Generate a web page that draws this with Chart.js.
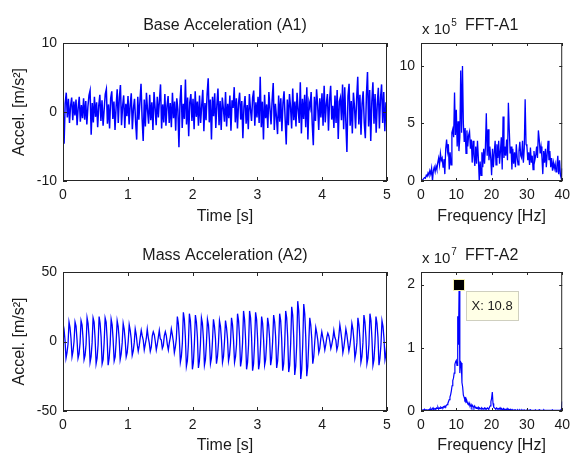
<!DOCTYPE html>
<html>
<head>
<meta charset="utf-8">
<title>Base and Mass Acceleration</title>
<script src="https://cdn.jsdelivr.net/npm/chart.js@4.4.1/dist/chart.umd.min.js"></script>
<style>
  html, body { margin: 0; padding: 0; background: #fff; }
  #figure { position: relative; width: 576px; height: 456px; background: #fff; overflow: hidden; }
  #figure canvas { position: absolute; }
</style>
</head>
<body>
<div id="figure">
  <canvas id="a1Canvas" width="400" height="230" style="left:0;top:0"></canvas>
  <canvas id="fftA1Canvas" width="176" height="230" style="left:400px;top:0"></canvas>
  <canvas id="a2Canvas" width="400" height="228" style="left:0;top:228px"></canvas>
  <canvas id="fftA2Canvas" width="176" height="228" style="left:400px;top:228px"></canvas>
</div>
<script>
/* Record length and spectrum range */
const duration = 5;      // s
const maxFreq = 40;      // Hz

/* Base acceleration A1 [m/s^2], evenly sampled over the record */
const baseAccel = [
  0.5, -4.6, 1.2, 2.8, -0.8, 1.9, -1.6, 0.9, 2.1, -1.2, 1.5, -0.5, 1.8, -1.9, 0.6, 2.2, -1.4, 1.0, -0.9, 2.0,
  -1.1, 1.6, -1.8, 0.8, 2.4, 3.1, -3.3, 1.3, -1.5, 2.2, -0.7, 1.4, -2.2, 0.9, 2.5, -1.3, 1.7, -2.0, 0.4, 2.6,
  3.3, -1.7, 1.1, -2.4, 2.0, 3.0, -1.0, 1.5, -2.6, 0.7, 3.3, -1.6, 2.1, 3.9, -1.9, 0.8, 2.4, -2.3, 1.2, -0.6,
  2.3, -1.8, 1.0, 2.7, -2.5, 0.5, 1.9, -1.4, -4.0, 2.2, -1.1, 1.6, 4.1, -0.9, -4.2, 1.8, -2.1, 2.8, 0.3, -1.7,
  2.5, -1.2, 1.4, -2.6, 2.9, 0.6, -1.9, 2.2, -0.8, 1.7, 4.0, -2.4, 1.1, -1.5, 2.6, -2.0, 0.9, 2.3, -1.6, 1.3,
  -2.2, 2.8, -0.9, 1.5, -2.7, 2.0, 0.4, -5.1, 1.6, 3.9, -2.3, 1.2, -1.0, 4.7, -1.8, 2.1, -3.5, 1.4, 2.6, -1.3,
  1.9, -2.5, 3.0, -0.7, 1.5, -2.0, 2.4, -1.6, 0.9, 3.2, -2.8, 1.3, -1.2, 2.6, 4.9, -1.5, 1.8, -4.0, 2.2, -0.6,
  2.7, -2.3, 1.0, 3.4, -1.9, 1.6, -2.6, 2.1, 0.5, -1.4, 2.9, -2.1, 1.2, -0.9, 2.4, -2.7, 1.7, 0.6, 3.6, -1.5,
  2.0, -2.4, 1.3, 2.8, -1.1, 1.6, -3.8, 0.8, 2.3, -1.7, 1.0, -2.5, 2.6, 0.4, -1.3, 2.1, 3.1, -2.0, 1.4, -0.8,
  2.2, -1.6, 5.1, -2.2, 1.5, -4.0, 2.5, -0.9, 1.1, -2.3, 2.9, 0.5, -1.8, 1.7, 4.2, -2.6, 1.2, -0.7, -3.2, 2.4,
  -1.4, 2.0, -2.8, 1.3, 3.0, -1.0, -4.7, 1.8, -1.9, 2.6, 0.7, -2.4, 3.4, -1.2, 1.5, -2.1, 2.8, 0.3, -1.6, 4.3,
  -3.1, 1.9, -1.0, 2.5, -2.2, 3.6, -4.0, 1.4, 0.6, 2.9, -1.7, -4.8, 2.2, -1.3, 3.3, 1.0, -2.6, 2.0, -0.8, 2.7,
  -2.0, 3.8, -1.5, 1.2, 2.6, -2.7, 1.7, 3.8, -1.1, 0.9, -2.3, 2.4, -1.6, 3.2, -3.9, 1.5, 2.1, -1.2, 4.0, -2.5,
  3.6, -1.4, -5.8, 2.3, 4.1, -2.0, 1.6, -3.1, 2.8, 0.7, -2.4, 1.9, 5.1, -1.8, 2.5, -3.3, 1.2, 3.0, -1.5, -3.8,
  2.4, 5.8, -2.1, 3.2, -4.2, 1.5, 4.3, -1.7, 2.6, -3.0, 1.1, 3.5, -2.4, 2.0, 4.0, -1.6, 2.9, -2.8, 1.4, -0.5
];

/* Mass acceleration A2 [m/s^2], evenly sampled over the record */
const massAccel = [
  13, 9, 1, -12, -8, -2,      14, 10, 2, -11, -7, 0,
  14, 11, 1, -12, -9, -1,     15, 12, 2, -13, -10, -2,
  17, 13, 3, -15, -11, -1,    17, 14, 2, -16, -12, -2,
  18, 13, 3, -16, -13, -1,    17, 14, 2, -17, -12, -2,
  16, 12, 1, -14, -11, 0,     15, 11, 2, -13, -9, -1,
  13, 9, 1, -11, -8, 0,       12, 8, 2, -10, -7, -1,
  9, 5, -2, -7, -3, 3,        8, 4, 1, -6, -2, 2,
  9, 3, -1, -7, -4, 4,        7, 5, 0, -6, -2, 3,
  8, 2, 1, -5, -3, 4,         7, 4, -2, -6, -1, 3,
  9, 5, 0, -8, -4, 2,         18, 13, 2, -15, -11, -1,
  21, 16, 3, -18, -14, -2,    20, 15, 2, -20, -15, -1,
  19, 14, 3, -19, -14, -2,    17, 13, 2, -17, -13, -1,
  16, 12, 1, -16, -12, 0,     16, 11, 2, -16, -11, -1,
  15, 11, 1, -15, -11, 0,     15, 10, 2, -14, -10, -1,
  17, 12, 1, -15, -11, -2,    20, 15, 3, -18, -13, -1,
  22, 16, 2, -20, -15, -2,    22, 17, 3, -21, -16, -1,
  21, 16, 2, -20, -15, -2,    18, 13, 1, -17, -13, -1,
  17, 12, 2, -17, -12, 0,     19, 14, 3, -19, -14, -1,
  20, 15, 2, -21, -16, -2,    22, 17, 3, -22, -17, -1,
  25, 19, 3, -24, -18, -2,    29, 22, 4, -27, -20, -2,
  27, 20, 3, -25, -18, -1,    17, 12, 2, -16, -11, 0,
  10, 6, 1, -8, -5, 2,        7, 3, -1, -6, -2, 3,
  6, 4, 0, -5, -2, 2,         8, 3, 1, -6, -3, 4,
  12, 7, 1, -8, -4, 2,        9, 5, -1, -7, -3, 3,
  13, 9, 1, -12, -8, -1,      17, 12, 2, -15, -11, -1,
  19, 14, 3, -16, -12, -2,    20, 15, 2, -17, -13, -1,
  18, 13, 3, -17, -12, -2,    15, 11, 2, -13, -9, 1
];

/* FFT magnitude of A1, units of 1e5, 0..40 Hz */
const fftA1 = [
  0, 0.05, 0.1, 0.2, 0.3, 0.25, 0.5, 0.4,
  0.7, 0.5, 0.9, 0.6, 1.1, 0.0, 0.9, 1.2,
  0.8, 1.3, 1.0, 1.6, 2.0, 1.4, 2.4, 1.8,
  2.0, 1.2, 1.9, 0.6, 2.8, 3.6, 2.6, 3.2,
  1.0, 2.5, 1.4, 4.2, 4.5, 3.8, 7.7, 4.0,
  6.2, 3.0, 5.2, 2.6, 3.8, 9.6, 4.2, 10.0,
  5.0, 3.4, 4.6, 2.4, 4.4, 3.0, 4.0, 4.3,
  2.8, 3.6, 1.6, 3.5, 2.2, 1.3, 3.0, 1.5,
  3.5, 2.0, 0.0, 1.7, 0.5, 2.5, 1.2, 2.8,
  1.5, 3.0, 5.9, 2.2, 4.5, 1.8, 3.0, 2.0,
  0.5, 2.8, 1.2, 2.5, 3.5, 1.4, 3.2, 2.0,
  3.5, 1.5, 2.6, 3.8, 1.0, 5.6, 2.0, 3.0,
  2.2, 3.6, 1.8, 6.8, 4.5, 2.4, 3.0, 1.0,
  2.8, 1.5, 2.5, 1.2, 3.2, 2.0, 1.4, 2.6,
  3.4, 2.2, 2.0, 3.5, 1.6, 2.8, 7.1, 3.2,
  3.0, 1.8, 2.5, 1.4, 2.9, 1.6, 2.2, 1.0,
  2.6, 1.8, 2.2, 3.0, 2.0, 4.4, 3.6, 2.4,
  3.0, 2.1, 0.6, 2.6, 1.6, 2.8, 1.2, 2.4,
  3.5, 1.8, 2.6, 1.2, 2.0, 0.9, 1.6, 1.1,
  1.5, 0.8, 1.3, 2.2, 0.6, 1.8, 0.5, 0.2,
  1.1
];

/* FFT magnitude of A2, units of 1e7, 0..40 Hz */
const fftA2 = [
  0.01, 0.02, 0.01, 0.02, 0.01, 0.03, 0.02, 0.01, 0.02, 0.01,
  0.02, 0.01, 0.03, 0.02, 0.04, 0.02, 0.03, 0.05, 0.02, 0.03,
  0.04, 0.03, 0.05, 0.04, 0.06, 0.03, 0.05, 0.04, 0.06, 0.05,
  0.06, 0.05, 0.07, 0.06, 0.08, 0.07, 0.09, 0.10, 0.12, 0.15,
  0.18, 0.22, 0.26, 0.32, 0.40, 0.48, 0.52, 0.60, 0.74, 0.78,
  0.80, 0.72, 1.50, 1.05, 2.00, 0.60, 0.78, 0.76, 0.45, 0.38,
  0.25, 0.22, 0.18, 0.20, 0.14, 0.16, 0.12, 0.10, 0.13, 0.09,
  0.08, 0.10, 0.06, 0.09, 0.07, 0.05, 0.08, 0.06, 0.04, 0.05,
  0.04, 0.06, 0.03, 0.05, 0.04, 0.03, 0.05, 0.04, 0.03, 0.04,
  0.05, 0.03, 0.04, 0.03, 0.05, 0.04, 0.03, 0.06, 0.08, 0.15,
  0.20, 0.30, 0.12, 0.06, 0.05, 0.04, 0.03, 0.05, 0.04, 0.03,
  0.04, 0.03, 0.05, 0.03, 0.04, 0.02, 0.03, 0.04, 0.02, 0.03,
  0.03, 0.02, 0.04, 0.02, 0.03, 0.02, 0.02, 0.03, 0.02, 0.01,
  0.02, 0.01, 0.02, 0.01, 0.02, 0.01, 0.01, 0.02, 0.01, 0.01,
  0.02, 0.01, 0.01, 0.02, 0.01, 0.01, 0.02, 0.01, 0.01, 0.01,
  0.01, 0.02, 0.01, 0.01, 0.01, 0.02, 0.01, 0.01, 0.01, 0.01,
  0.01, 0.01, 0.02, 0.01, 0.01, 0.01, 0.01, 0.01, 0.02, 0.01,
  0.01, 0.01, 0.01, 0.01, 0.02, 0.01, 0.01, 0.01, 0.01, 0.01,
  0.01, 0.01, 0.01, 0.01, 0.01, 0.01, 0.02, 0.01, 0.01, 0.01,
  0.01, 0.01, 0.01, 0.01, 0.01, 0.01, 0.01, 0.01, 0.02, 0.03,
  0.15
];

const FONT = "'Liberation Sans', Arial, Helvetica, sans-serif";
const INK = '#1a1a1a';
const TRACE = '#0000ff';

Chart.defaults.font.family = FONT;
Chart.defaults.color = INK;
Chart.defaults.animation = false;

/* Turn evenly spaced samples into {x, y} points */
function toPoints(values, span) {
    var step = span / (values.length - 1);
    return values.map((v, i) => ({ x: i * step, y: v }));
}

/* Frame on all four sides with inward ticks, like a MATLAB axes box */
const boxAxes = {
    id: 'boxAxes',
    afterDatasetsDraw(chart, args, opts) {
        const { ctx, chartArea: a, scales: { x, y } } = chart;
        const len = opts.tickLen || 4;
        ctx.save();
        ctx.strokeStyle = '#262626';
        ctx.lineWidth = 1;
        ctx.strokeRect(a.left + 0.5, a.top + 0.5, a.width - 1, a.height - 1);
        ctx.beginPath();
        x.ticks.forEach(t => {
            var px = Math.round(x.getPixelForValue(t.value)) + 0.5;
            ctx.moveTo(px, a.bottom); ctx.lineTo(px, a.bottom - len);
            ctx.moveTo(px, a.top); ctx.lineTo(px, a.top + len);
        });
        y.ticks.forEach(t => {
            var py = Math.round(y.getPixelForValue(t.value)) + 0.5;
            ctx.moveTo(a.left, py); ctx.lineTo(a.left + len, py);
            ctx.moveTo(a.right, py); ctx.lineTo(a.right - len, py);
        });
        ctx.stroke();
        ctx.restore();
    }
};

/* "x 10^n" multiplier over the top of the y axis */
const expLabel = {
    id: 'expLabel',
    afterDraw(chart, args, opts) {
        if (!opts.exp) return;
        const { ctx, chartArea: a } = chart;
        ctx.save();
        ctx.fillStyle = INK;
        ctx.textAlign = 'left';
        ctx.textBaseline = 'alphabetic';
        ctx.font = '15px ' + FONT;
        ctx.fillText('x 10', a.left + 1, a.top - 9);
        var w = ctx.measureText('x 10').width;
        ctx.font = '10px ' + FONT;
        ctx.fillText(opts.exp, a.left + 2 + w, a.top - 17);
        ctx.restore();
    }
};

/* Data cursor on the highest point of the first dataset */
const dataTip = {
    id: 'dataTip',
    afterDraw(chart, args, opts) {
        if (!opts.show) return;
        const { ctx, scales: { x, y } } = chart;
        const pts = chart.data.datasets[0].data;
        var best = pts[0];
        pts.forEach(p => { if (p.y > best.y) best = p; });
        var px = Math.round(x.getPixelForValue(best.x));
        var py = Math.round(y.getPixelForValue(best.y));
        ctx.save();
        // marker
        ctx.fillStyle = '#000';
        ctx.fillRect(px - 5, py - 5, 10, 10);
        ctx.strokeStyle = '#f4f0b0';
        ctx.lineWidth = 1;
        ctx.strokeRect(px - 5.5, py - 5.5, 11, 11);
        // text box
        var bx = px + 7.5, by = py + 6.5;
        ctx.fillStyle = '#ffffe6';
        ctx.fillRect(bx, by, 52, 29);
        ctx.strokeStyle = '#cfcfbf';
        ctx.strokeRect(bx, by, 52, 29);
        ctx.fillStyle = INK;
        ctx.font = '13px ' + FONT;
        ctx.textAlign = 'left';
        ctx.textBaseline = 'middle';
        ctx.fillText('X: ' + best.x.toFixed(1), bx + 5, by + 15);
        ctx.restore();
    }
};

/* Shared options for one subplot */
function subplot(cfg) {
    return {
        type: 'line',
        data: {
            datasets: [{
                data: cfg.points,
                borderColor: TRACE,
                borderWidth: cfg.lineWidth,
                pointRadius: 0,
                tension: 0,
                fill: false
            }]
        },
        options: {
            responsive: false,
            devicePixelRatio: 1,
            events: [],
            layout: { padding: { left: 0, top: 0, right: cfg.padRight, bottom: 0 } },
            plugins: {
                legend: { display: false },
                tooltip: { enabled: false },
                title: {
                    display: true,
                    text: cfg.title,
                    fullSize: false,
                    color: INK,
                    font: { size: 16, weight: 'normal', lineHeight: 1.25 },
                    padding: { top: cfg.titleTop, bottom: cfg.titleBottom }
                },
                boxAxes: { tickLen: cfg.tickLen },
                expLabel: { exp: cfg.exp },
                dataTip: { show: !!cfg.cursor }
            },
            scales: {
                x: {
                    type: 'linear',
                    min: cfg.xMin, max: cfg.xMax,
                    grid: { display: false, drawTicks: false },
                    border: { display: false },
                    ticks: { stepSize: cfg.xStep, padding: 6, maxRotation: 0, font: { size: 14 }, color: INK, includeBounds: false },
                    title: { display: true, text: cfg.xTitle, font: { size: 16, lineHeight: 1.25 }, color: INK, padding: { top: 0, bottom: cfg.xTitlePad } },
                    afterFit: s => { s.height = cfg.xHeight; }
                },
                y: {
                    type: 'linear',
                    min: cfg.yMin, max: cfg.yMax,
                    grid: { display: false, drawTicks: false },
                    border: { display: false },
                    ticks: { stepSize: cfg.yStep, padding: 6, font: { size: 14 }, color: INK, includeBounds: false },
                    title: { display: !!cfg.yTitle, text: cfg.yTitle || '', font: { size: 16, lineHeight: 1.25 }, color: INK, padding: { top: 10, bottom: 0 } },
                    afterFit: s => { s.width = cfg.yWidth; }
                }
            }
        },
        plugins: [boxAxes, expLabel, dataTip]
    };
}

new Chart(document.getElementById('a1Canvas'), subplot({
    points: toPoints(baseAccel, duration),
    title: 'Base Acceleration (A1)', lineWidth: 1.5,
    titleTop: 16, titleBottom: 7,
    xMin: 0, xMax: duration, xStep: 1, xTitle: 'Time [s]', xHeight: 49, xTitlePad: 3,
    yMin: -10, yMax: 10, yStep: 10, yTitle: 'Accel. [m/s²]', yWidth: 63,
    padRight: 13, tickLen: 4
}));

new Chart(document.getElementById('fftA1Canvas'), subplot({
    points: toPoints(fftA1, maxFreq),
    title: 'FFT-A1', exp: '5', lineWidth: 1.3,
    titleTop: 16, titleBottom: 7,
    xMin: 0, xMax: maxFreq, xStep: 10, xTitle: 'Frequency [Hz]', xHeight: 49, xTitlePad: 3,
    yMin: 0, yMax: 12, yStep: 5, yWidth: 21,
    padRight: 8, tickLen: 3
}));

new Chart(document.getElementById('a2Canvas'), subplot({
    points: toPoints(massAccel, duration),
    title: 'Mass Acceleration (A2)', lineWidth: 1.3,
    titleTop: 18, titleBottom: 6,
    xMin: 0, xMax: duration, xStep: 1, xTitle: 'Time [s]', xHeight: 45, xTitlePad: 0,
    yMin: -50, yMax: 50, yStep: 50, yTitle: 'Accel. [m/s²]', yWidth: 63,
    padRight: 13, tickLen: 4
}));

new Chart(document.getElementById('fftA2Canvas'), subplot({
    points: toPoints(fftA2, maxFreq),
    title: 'FFT-A2', exp: '7', cursor: true, lineWidth: 1.2,
    titleTop: 18, titleBottom: 6,
    xMin: 0, xMax: maxFreq, xStep: 10, xTitle: 'Frequency [Hz]', xHeight: 45, xTitlePad: 0,
    yMin: 0, yMax: 2.2, yStep: 1, yWidth: 21,
    padRight: 7, tickLen: 3
}));
</script>
</body>
</html>
